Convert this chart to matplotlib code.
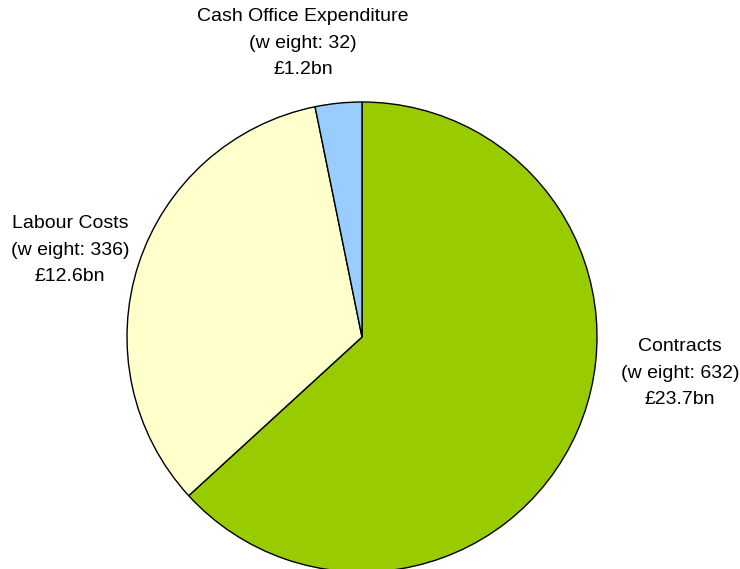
import matplotlib
matplotlib.use("Agg")
from matplotlib import pyplot as plt

# data
categories = ["Contracts", "Labour Costs", "Cash Office Expenditure"]
weights = [632, 336, 32]
spend_bn = [23.7, 12.6, 1.2]
colors = ["#99CC00", "#FFFFCC", "#99CCFF"]

plt.rcParams["font.family"] = ["Liberation Sans", "DejaVu Sans"]

W, H = 740, 569
fig = plt.figure(figsize=(W / 100, H / 100), dpi=100)
ax = fig.add_axes([0, 0, 1, 1])

center = (362, H - 337)
radius = 235
ax.pie(weights, colors=colors, startangle=90, counterclock=False,
       center=center, radius=radius,
       wedgeprops=dict(edgecolor="black", linewidth=1.0))
ax.set_xlim(0, W)
ax.set_ylim(0, H)
ax.set_aspect("auto")
ax.axis("off")

# label anchor points (pixel coords, y from top)
label_pos = [(680, 373), (70, 250), (303, 43)]
for name, w, v, (x, y) in zip(categories, weights, spend_bn, label_pos):
    ax.text(x, H - y, f"{name}\n(w eight: {w})\n£{v}bn",
            ha="center", va="center", fontsize=14, linespacing=1.75)

fig.savefig("out.png", dpi=100)
